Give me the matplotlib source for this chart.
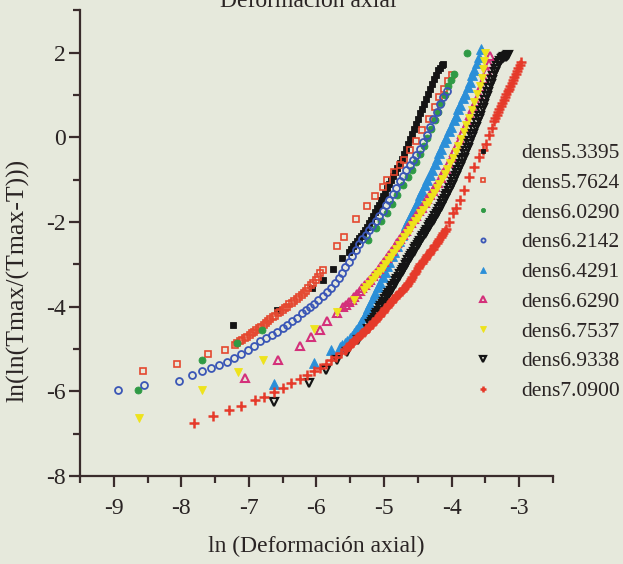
import matplotlib
matplotlib.use("Agg")
import matplotlib.pyplot as plt
from matplotlib.ticker import MultipleLocator

plt.rcParams["axes.unicode_minus"] = False

# ln(ln(Tmax/(Tmax-T))) versus ln(axial strain) for each density
labels = ["dens5.3395", "dens5.7624", "dens6.0290", "dens6.2142", "dens6.4291",
          "dens6.6290", "dens6.7537", "dens6.9338", "dens7.0900"]

x_d53 = [-7.23, -6.59, -6.06, -5.91, -5.75, -5.62, -5.52, -5.49, -5.46, -5.43, -5.40, -5.37,
         -5.34, -5.31, -5.28, -5.25, -5.22, -5.19, -5.16, -5.13, -5.10, -5.07, -5.04, -5.01,
         -4.98, -4.95, -4.92, -4.89, -4.86, -4.83, -4.80, -4.77, -4.74, -4.71, -4.68, -4.65,
         -4.62, -4.59, -4.56, -4.53, -4.50, -4.47, -4.44, -4.41, -4.38, -4.35, -4.32, -4.29,
         -4.26, -4.23, -4.20, -4.17, -4.14, -4.12]
y_d53 = [-4.44, -4.08, -3.56, -3.37, -3.12, -2.86, -2.71, -2.65, -2.58, -2.52, -2.45, -2.39,
         -2.33, -2.26, -2.19, -2.11, -2.03, -1.95, -1.86, -1.77, -1.68, -1.59, -1.49, -1.40,
         -1.31, -1.21, -1.11, -1.02, -0.92, -0.83, -0.73, -0.62, -0.51, -0.40, -0.28, -0.16,
         -0.04, 0.08, 0.20, 0.32, 0.44, 0.56, 0.67, 0.79, 0.91, 1.03, 1.14, 1.26,
         1.37, 1.47, 1.58, 1.64, 1.70, 1.74]

x_d57 = [-8.56, -8.07, -7.60, -7.35,
         -7.20, -7.17, -7.13, -7.10, -7.06, -7.03, -6.99, -6.96, -6.92, -6.89, -6.85, -6.82,
         -6.78, -6.75, -6.71, -6.68, -6.64, -6.61, -6.57, -6.54, -6.50, -6.47, -6.43, -6.40,
         -6.36, -6.33, -6.29, -6.26, -6.22, -6.19, -6.15, -6.12, -6.08, -6.05, -6.01, -5.98,
         -5.94, -5.91,
         -5.70, -5.59, -5.41, -5.25, -5.13, -5.02, -4.95, -4.85, -4.77, -4.70, -4.61, -4.53,
         -4.43, -4.33, -4.25, -4.18, -4.11, -4.05, -3.99]
y_d57 = [-5.52, -5.35, -5.11, -5.02,
         -4.90, -4.86, -4.82, -4.78, -4.75, -4.71, -4.67, -4.63, -4.59, -4.55, -4.51, -4.47,
         -4.43, -4.38, -4.34, -4.29, -4.25, -4.21, -4.16, -4.12, -4.08, -4.04, -4.00, -3.95,
         -3.91, -3.86, -3.82, -3.77, -3.73, -3.68, -3.62, -3.56, -3.50, -3.44, -3.36, -3.29,
         -3.21, -3.13,
         -2.57, -2.36, -1.92, -1.62, -1.40, -1.18, -1.02, -0.82, -0.66, -0.53, -0.31, -0.08,
         0.16, 0.44, 0.71, 0.95, 1.15, 1.32, 1.48]

x_d60 = [-8.64, -7.70, -7.17, -6.80, -5.24, -5.12, -5.04, -4.96, -4.88, -4.80, -4.72, -4.65,
         -4.59, -4.53, -4.47, -4.41, -4.36, -4.30, -4.25, -4.20, -4.15, -4.10, -4.05, -4.01,
         -3.97, -3.77]
y_d60 = [-5.96, -5.25, -4.86, -4.56, -2.43, -2.15, -1.98, -1.78, -1.58, -1.36, -1.14, -0.95,
         -0.78, -0.59, -0.40, -0.20, -0.02, 0.20, 0.40, 0.60, 0.80, 1.00, 1.20, 1.36,
         1.50, 1.98]

x_d62 = [-8.94, -8.55, -8.03, -7.84, -7.69, -7.56, -7.44, -7.33, -7.22,
         -7.12, -7.02, -6.92, -6.83, -6.74, -6.66, -6.58, -6.50, -6.43, -6.36, -6.29, -6.22,
         -6.15, -6.09, -6.03, -5.97, -5.91, -5.85, -5.79, -5.73, -5.67, -5.62, -5.57, -5.52,
         -5.47, -5.42, -5.37, -5.32, -5.27, -5.22, -5.17, -5.12, -5.07, -5.02, -4.97, -4.92,
         -4.87, -4.82, -4.77, -4.72, -4.67, -4.62, -4.57, -4.52, -4.47, -4.42, -4.37, -4.32,
         -4.27, -4.22, -4.17, -4.12, -4.07]
y_d62 = [-5.96, -5.85, -5.76, -5.62, -5.52, -5.46, -5.37, -5.30, -5.22,
         -5.12, -5.02, -4.92, -4.81, -4.73, -4.66, -4.59, -4.51, -4.43, -4.35, -4.26, -4.16,
         -4.07, -4.01, -3.93, -3.85, -3.74, -3.65, -3.55, -3.44, -3.32, -3.20, -3.07, -2.94,
         -2.80, -2.66, -2.52, -2.41, -2.30, -2.19, -2.09, -1.97, -1.86, -1.74, -1.61, -1.49,
         -1.35, -1.19, -1.03, -0.91, -0.78, -0.65, -0.53, -0.41, -0.29, -0.12, 0.06, 0.23,
         0.42, 0.60, 0.78, 0.95, 1.10]

x_d64 = [-6.63, -6.03, -5.79,
         -5.65, -5.62, -5.58, -5.55, -5.51, -5.48, -5.44, -5.41, -5.37, -5.34, -5.30, -5.27,
         -5.23, -5.20, -5.16, -5.13, -5.09, -5.06, -5.02, -4.99, -4.95, -4.92, -4.88, -4.85,
         -4.81, -4.78, -4.74, -4.71, -4.67, -4.64, -4.60, -4.57, -4.53, -4.50, -4.46, -4.43,
         -4.39, -4.36, -4.32, -4.29, -4.25, -4.22, -4.18, -4.15, -4.11, -4.08, -4.04, -4.01,
         -3.97, -3.94, -3.90, -3.87, -3.83, -3.80, -3.76, -3.73, -3.69, -3.66, -3.62, -3.59,
         -3.56]
y_d64 = [-5.83, -5.34, -5.03,
         -4.95, -4.91, -4.85, -4.81, -4.75, -4.70, -4.62, -4.56, -4.46, -4.37, -4.25, -4.15,
         -4.03, -3.93, -3.79, -3.69, -3.54, -3.44, -3.29, -3.19, -3.05, -2.94, -2.80, -2.70,
         -2.56, -2.45, -2.32, -2.21, -2.08, -1.98, -1.84, -1.74, -1.60, -1.50, -1.36, -1.26,
         -1.13, -1.02, -0.89, -0.78, -0.64, -0.52, -0.38, -0.27, -0.12, -0.01, 0.14, 0.25,
         0.40, 0.51, 0.66, 0.77, 0.92, 1.03, 1.19, 1.30, 1.46, 1.58, 1.75, 1.90,
         2.08]

x_d66 = [-7.05, -6.57, -6.24, -6.08, -5.95, -5.84, -5.69,
         -5.60, -5.56, -5.52, -5.48, -5.44, -5.40, -5.36, -5.32, -5.28, -5.24, -5.20, -5.16,
         -5.12, -5.08, -5.04, -5.00, -4.96, -4.92, -4.88, -4.84, -4.80, -4.76, -4.72, -4.68,
         -4.64, -4.60, -4.56, -4.52, -4.48, -4.44, -4.40, -4.36, -4.32, -4.28, -4.24, -4.20,
         -4.16, -4.12, -4.08, -4.04, -4.00, -3.96, -3.92, -3.88, -3.84, -3.80, -3.76, -3.72,
         -3.68, -3.64, -3.60, -3.56, -3.52, -3.48, -3.45, -3.43]
y_d66 = [-5.68, -5.25, -4.94, -4.72, -4.55, -4.33, -4.14,
         -4.02, -3.96, -3.90, -3.84, -3.77, -3.71, -3.64, -3.57, -3.50, -3.43, -3.36, -3.28,
         -3.20, -3.12, -3.03, -2.95, -2.86, -2.77, -2.68, -2.59, -2.50, -2.41, -2.32, -2.22,
         -2.13, -2.03, -1.94, -1.85, -1.75, -1.66, -1.56, -1.46, -1.37, -1.27, -1.17, -1.07,
         -0.96, -0.85, -0.74, -0.61, -0.48, -0.34, -0.21, -0.07, 0.08, 0.22, 0.37, 0.52,
         0.68, 0.84, 1.00, 1.19, 1.38, 1.57, 1.73, 1.92]

x_d675 = [-8.62, -7.69, -7.16, -6.79, -6.03, -5.69, -5.44,
          -5.30, -5.26, -5.22, -5.18, -5.14, -5.10, -5.06, -5.02, -4.98, -4.94, -4.90, -4.86,
          -4.82, -4.78, -4.74, -4.70, -4.66, -4.62, -4.58, -4.54, -4.50, -4.46, -4.42, -4.38,
          -4.34, -4.30, -4.26, -4.22, -4.18, -4.14, -4.10, -4.06, -4.02, -3.98, -3.94, -3.90,
          -3.86, -3.82, -3.78, -3.74, -3.70, -3.66, -3.62, -3.58, -3.55, -3.53, -3.52, -3.51]
y_d675 = [-6.64, -5.97, -5.54, -5.26, -4.52, -4.12, -3.84,
          -3.60, -3.53, -3.46, -3.38, -3.31, -3.24, -3.16, -3.08, -3.00, -2.91, -2.82, -2.73,
          -2.64, -2.54, -2.45, -2.36, -2.27, -2.18, -2.08, -1.99, -1.90, -1.80, -1.71, -1.61,
          -1.52, -1.42, -1.31, -1.20, -1.10, -0.98, -0.87, -0.75, -0.62, -0.49, -0.35, -0.20,
          -0.04, 0.12, 0.29, 0.46, 0.64, 0.83, 1.02, 1.22, 1.40, 1.60, 1.80, 2.00]

x_d69 = [-6.63, -6.11, -5.86, -5.69, -5.54, -5.39, -5.24,
         -5.20, -5.18, -5.16, -5.14, -5.12, -5.10, -5.08, -5.06, -5.04, -5.02, -5.00, -4.98,
         -4.96, -4.94, -4.92, -4.90, -4.88, -4.86, -4.84, -4.82, -4.80, -4.78, -4.76, -4.74,
         -4.72, -4.70, -4.68, -4.66, -4.64, -4.62, -4.60, -4.58, -4.56, -4.54, -4.52, -4.50,
         -4.48, -4.46, -4.44, -4.42, -4.40, -4.38, -4.36, -4.34, -4.32, -4.30, -4.28, -4.26,
         -4.24, -4.22, -4.20, -4.18, -4.16, -4.14, -4.12, -4.10, -4.08, -4.06, -4.04, -4.02,
         -4.00, -3.98, -3.96, -3.94, -3.92, -3.90, -3.88, -3.86, -3.84, -3.82, -3.80, -3.78,
         -3.76, -3.74, -3.72, -3.70, -3.68, -3.66, -3.64, -3.62, -3.60, -3.58, -3.56, -3.54,
         -3.52, -3.50, -3.48, -3.46, -3.44, -3.42, -3.40, -3.38, -3.36, -3.34, -3.32, -3.30,
         -3.28, -3.26, -3.24, -3.22, -3.20, -3.18, -3.16]
y_d69 = [-6.25, -5.80, -5.50, -5.26, -5.07, -4.79, -4.52,
         -4.42, -4.37, -4.31, -4.26, -4.20, -4.15, -4.10, -4.04, -3.99, -3.94, -3.88, -3.83,
         -3.78, -3.72, -3.67, -3.62, -3.57, -3.51, -3.46, -3.40, -3.35, -3.29, -3.24, -3.19,
         -3.13, -3.08, -3.02, -2.97, -2.91, -2.86, -2.81, -2.75, -2.70, -2.65, -2.60, -2.54,
         -2.49, -2.44, -2.39, -2.34, -2.29, -2.23, -2.18, -2.13, -2.08, -2.02, -1.97, -1.92,
         -1.86, -1.81, -1.76, -1.70, -1.64, -1.58, -1.51, -1.45, -1.39, -1.33, -1.26, -1.19,
         -1.12, -1.06, -0.99, -0.92, -0.85, -0.78, -0.70, -0.63, -0.55, -0.48, -0.40, -0.33,
         -0.25, -0.17, -0.08, 0.00, 0.08, 0.16, 0.24, 0.33, 0.42, 0.51, 0.61, 0.70,
         0.79, 0.88, 0.98, 1.07, 1.17, 1.26, 1.36, 1.45, 1.55, 1.62, 1.69, 1.76,
         1.81, 1.84, 1.87, 1.89, 1.90, 1.92, 1.93]

x_d70 = [-7.81, -7.53, -7.29, -7.12, -6.91, -6.77, -6.63, -6.50, -6.38, -6.25, -6.14, -6.04,
         -5.95, -5.86, -5.78, -5.71, -5.64,
         -5.58, -5.56, -5.54, -5.52, -5.50, -5.48, -5.46, -5.44, -5.42, -5.40, -5.38, -5.36,
         -5.34, -5.32, -5.30, -5.28, -5.26, -5.24, -5.22, -5.20, -5.18, -5.16, -5.14, -5.12,
         -5.10, -5.08, -5.06, -5.04, -5.02, -5.00, -4.98, -4.96, -4.94, -4.92, -4.90, -4.88,
         -4.86, -4.84, -4.82, -4.80, -4.78, -4.76, -4.74, -4.72, -4.70, -4.68, -4.66, -4.64,
         -4.62, -4.60, -4.58, -4.56, -4.54, -4.52, -4.50, -4.48, -4.46, -4.44, -4.42, -4.40,
         -4.38, -4.36, -4.34, -4.32, -4.30, -4.28, -4.26, -4.24, -4.22, -4.20, -4.18, -4.16,
         -4.14, -4.12, -4.10, -4.08,
         -4.03, -3.98, -3.93, -3.88, -3.81, -3.74, -3.66, -3.59, -3.53, -3.49, -3.45, -3.40,
         -3.37, -3.35, -3.33, -3.31, -3.29, -3.27, -3.25, -3.23, -3.21, -3.19, -3.17, -3.15,
         -3.13, -3.11, -3.09, -3.07, -3.05, -3.03, -3.01, -2.99, -2.97]
y_d70 = [-6.74, -6.58, -6.44, -6.34, -6.21, -6.13, -6.01, -5.91, -5.81, -5.72, -5.62, -5.53,
         -5.44, -5.35, -5.26, -5.18, -5.10,
         -5.02, -4.99, -4.95, -4.92, -4.89, -4.86, -4.83, -4.80, -4.77, -4.74, -4.71, -4.68,
         -4.65, -4.63, -4.60, -4.57, -4.54, -4.51, -4.47, -4.44, -4.40, -4.37, -4.33, -4.29,
         -4.26, -4.22, -4.19, -4.15, -4.12, -4.08, -4.04, -4.01, -3.97, -3.94, -3.90, -3.86,
         -3.83, -3.79, -3.76, -3.72, -3.69, -3.65, -3.62, -3.58, -3.55, -3.51, -3.48, -3.44,
         -3.39, -3.34, -3.29, -3.24, -3.20, -3.15, -3.10, -3.05, -3.00, -2.96, -2.92, -2.88,
         -2.84, -2.79, -2.75, -2.71, -2.67, -2.63, -2.58, -2.54, -2.49, -2.45, -2.40, -2.36,
         -2.31, -2.26, -2.21, -2.16,
         -2.00, -1.80, -1.68, -1.49, -1.25, -0.94, -0.71, -0.47, -0.30, -0.15, 0.05, 0.22,
         0.39, 0.46, 0.53, 0.60, 0.67, 0.74, 0.81, 0.88, 0.94, 1.01, 1.08, 1.15,
         1.22, 1.29, 1.36, 1.43, 1.50, 1.57, 1.63, 1.70, 1.77]

xs = [x_d53, x_d57, x_d60, x_d62, x_d64, x_d66, x_d675, x_d69, x_d70]
ys = [y_d53, y_d57, y_d60, y_d62, y_d64, y_d66, y_d675, y_d69, y_d70]

styles = [
    dict(marker="s", ms=4.2, mfc="#141414", mec="#141414", mew=0.6),
    dict(marker="s", ms=4.2, mfc="none", mec="#e4472f", mew=1.2),
    dict(marker="o", ms=5.0, mfc="#2f9a45", mec="#2f9a45", mew=0.6),
    dict(marker="o", ms=5.0, mfc="none", mec="#3a56b6", mew=1.3),
    dict(marker="^", ms=6.5, mfc="#2b8fd8", mec="#2b8fd8", mew=0.6),
    dict(marker="^", ms=6.4, mfc="none", mec="#d4307a", mew=1.5),
    dict(marker="v", ms=6.4, mfc="#eee31c", mec="#eee31c", mew=0.6),
    dict(marker="v", ms=6.4, mfc="none", mec="#141414", mew=1.6),
    dict(marker="+", ms=7.5, mfc="none", mec="#e53a2a", mew=1.8),
]

bg = "#e6e9dc"
ink = "#2a2424"
axis_col = "#3a2c2c"
serif = ["Liberation Serif", "DejaVu Serif"]

fig = plt.figure(figsize=(6.23, 5.64), dpi=100)
fig.patch.set_facecolor(bg)
ax = fig.add_axes([0.1284, 0.156, 0.759, 0.826])
ax.set_facecolor("none")

for x, y, lab, st in zip(xs, ys, labels, styles):
    ax.plot(x, y, linestyle="none", label=lab, **st)

ax.set_xlim(-9.5, -2.5)
ax.set_ylim(-8, 3)
ax.xaxis.set_major_locator(MultipleLocator(1))
ax.xaxis.set_minor_locator(MultipleLocator(0.5))
ax.yaxis.set_major_locator(MultipleLocator(2))
ax.yaxis.set_minor_locator(MultipleLocator(1))

for side in ("top", "right"):
    ax.spines[side].set_visible(False)
for side in ("left", "bottom"):
    ax.spines[side].set_color(axis_col)
    ax.spines[side].set_linewidth(1.6)

ax.tick_params(which="major", direction="out", length=8, width=1.6, color=axis_col,
               labelsize=17, labelcolor=ink)
ax.tick_params(which="minor", direction="out", length=5, width=1.6, color=axis_col)
ax.tick_params(axis="x", which="major", pad=8)
ax.tick_params(axis="y", which="major", pad=2)
for lbl in ax.get_xticklabels() + ax.get_yticklabels():
    lbl.set_family(serif)

ax.set_xlabel("ln (Deformación axial)", fontsize=17, family=serif, color=ink, labelpad=12)
ax.set_ylabel("ln(ln(Tmax/(Tmax-T)))", fontsize=18.5, family=serif, color=ink)
ax.yaxis.set_label_coords(-0.106, 0.42)

fig.text(308 / 623, 1 - 7 / 564, "Deformación axial", ha="center", va="baseline",
         fontsize=17, family=serif, color=ink)

leg = ax.legend(loc="upper left", bbox_to_anchor=(477 / 623, 1 - 143 / 564),
                bbox_transform=fig.transFigure, frameon=False, borderpad=0,
                borderaxespad=0, handlelength=0.6, handletextpad=1.45,
                labelspacing=0.45, markerscale=0.6, prop={"family": serif, "size": 15.5})
for t in leg.get_texts():
    t.set_color(ink)

fig.savefig("out.png", dpi=100, facecolor=bg)
